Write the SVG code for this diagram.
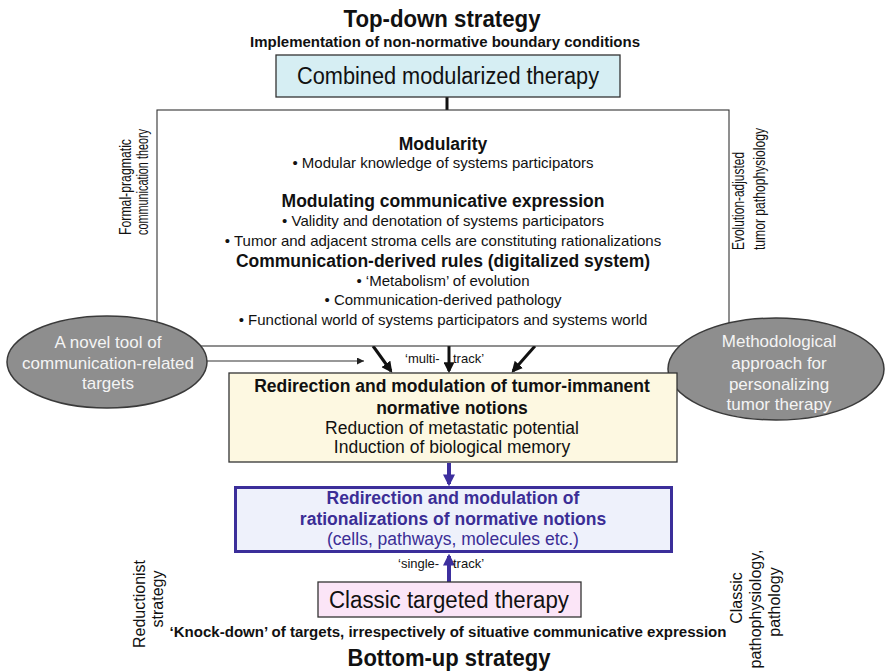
<svg xmlns="http://www.w3.org/2000/svg" width="888" height="672" viewBox="0 0 888 672">
<style>
text { font-family: "Liberation Sans", Arial, sans-serif; fill: #111; }
.b { font-weight: bold; }
.c { text-anchor: middle; }
.box { stroke: #333; stroke-width: 1.3; }
.ell { fill: #8e8e8e; stroke: #3a3a3a; stroke-width: 1.5; }
.et { fill: #f4f4f4; font-size: 17px; text-anchor: middle; }
.thin { stroke: #333; stroke-width: 1.1; fill: none; }
.blk { stroke: #111; stroke-width: 3; fill: none; }
.pur { stroke: #3d2f9e; stroke-width: 4; fill: none; }
.pt { fill: #3b2e96; }
</style>
<defs>
<marker id="ahb" viewBox="0 0 10 10" refX="8" refY="5" markerWidth="11" markerHeight="11" markerUnits="userSpaceOnUse" orient="auto"><path d="M0,0 L10,5 L0,10 z" fill="#111"/></marker>
<marker id="aht" viewBox="0 0 10 10" refX="10" refY="5" markerWidth="9" markerHeight="7" markerUnits="userSpaceOnUse" orient="auto"><path d="M0,0 L10,5 L0,10 z" fill="#222"/></marker>
<marker id="ahp" viewBox="0 0 10 10" refX="8" refY="5" markerWidth="12" markerHeight="12" markerUnits="userSpaceOnUse" orient="auto"><path d="M0,0 L10,5 L0,10 z" fill="#3d2f9e"/></marker>
</defs>

<g id="titles">
<text class="b c" x="442" y="27" font-size="24" textLength="197" lengthAdjust="spacingAndGlyphs">Top-down strategy</text>
<text class="b c" x="445" y="47" font-size="14" textLength="390" lengthAdjust="spacingAndGlyphs">Implementation of non-normative boundary conditions</text>
<text class="b c" x="448" y="637" font-size="14" textLength="557" lengthAdjust="spacingAndGlyphs">‘Knock-down’ of targets, irrespectively of situative communicative expression</text>
<text class="b c" x="449" y="666" font-size="24" textLength="203" lengthAdjust="spacingAndGlyphs">Bottom-up strategy</text>
</g>

<g id="side-labels">
<text transform="translate(131,235) rotate(-90)" x="0" y="0" font-size="16" textLength="96" lengthAdjust="spacingAndGlyphs">Formal-pragmatic</text>
<text transform="translate(148,235) rotate(-90)" x="0" y="0" font-size="16" textLength="106" lengthAdjust="spacingAndGlyphs">communication theory</text>
<text transform="translate(744,250) rotate(-90)" x="0" y="0" font-size="16" textLength="98" lengthAdjust="spacingAndGlyphs">Evolution-adjusted</text>
<text transform="translate(765,250) rotate(-90)" x="0" y="0" font-size="16" textLength="122" lengthAdjust="spacingAndGlyphs">tumor pathophysiology</text>
<text class="c" transform="translate(145,604) rotate(-90)" x="0" y="0" font-size="16">Reductionist</text>
<text class="c" transform="translate(163,599) rotate(-90)" x="0" y="0" font-size="16">strategy</text>
<text class="c" transform="translate(742,598) rotate(-90)" x="0" y="0" font-size="16">Classic</text>
<text class="c" transform="translate(761,609) rotate(-90)" x="0" y="0" font-size="16">pathophysiology,</text>
<text class="c" transform="translate(780,602) rotate(-90)" x="0" y="0" font-size="16">pathology</text>
</g>

<g id="connectors">
<line class="blk" x1="447" y1="97" x2="447" y2="110" stroke-width="2.5"/>
<line class="thin" x1="205" y1="361" x2="364" y2="361" marker-end="url(#aht)"/>
<line class="blk" x1="373" y1="346" x2="391" y2="371" marker-end="url(#ahb)"/>
<line class="blk" x1="449" y1="346" x2="449" y2="371" marker-end="url(#ahb)"/>
<line class="blk" x1="535" y1="346" x2="513" y2="371" marker-end="url(#ahb)"/>
<line class="pur" x1="449" y1="463" x2="449" y2="484" marker-end="url(#ahp)"/>
<line class="pur" x1="449" y1="582" x2="449" y2="556" marker-end="url(#ahp)"/>
</g>

<g id="combined">
<rect class="box" x="276" y="55" width="344" height="42" fill="#d6eef3"/>
<text class="c" x="448" y="84" font-size="23" textLength="302" lengthAdjust="spacingAndGlyphs">Combined modularized therapy</text>
</g>

<g id="framework">
<rect x="157" y="110" width="572" height="236" fill="#fff" stroke="#333" stroke-width="1.1"/>
<text class="b c" x="443" y="150" font-size="17.5">Modularity</text>
<text class="c" x="443" y="168" font-size="15">• Modular knowledge of  systems participators</text>
<text class="b c" x="443" y="207" font-size="17.5">Modulating communicative expression</text>
<text class="c" x="443" y="226" font-size="15">• Validity and denotation of systems participators</text>
<text class="c" x="443" y="246" font-size="15">• Tumor and adjacent stroma cells are constituting rationalizations</text>
<text class="b c" x="443" y="267" font-size="17.5">Communication-derived rules (digitalized system)</text>
<text class="c" x="443" y="286" font-size="15">• ‘Metabolism’ of evolution</text>
<text class="c" x="443" y="305" font-size="15">• Communication-derived pathology</text>
<text class="c" x="443" y="325" font-size="15">• Functional world of systems participators and systems world</text>
</g>

<g id="tool-ellipse">
<ellipse class="ell" cx="107" cy="362" rx="100" ry="46"/>
<text class="et" x="108" y="348">A novel tool of</text>
<text class="et" x="108" y="369">communication-related</text>
<text class="et" x="108" y="389">targets</text>
</g>

<g id="method-ellipse">
<ellipse class="ell" cx="776" cy="369" rx="108" ry="51"/>
<text class="et" x="779" y="347">Methodological</text>
<text class="et" x="779" y="369">approach for</text>
<text class="et" x="779" y="390">personalizing</text>
<text class="et" x="779" y="410">tumor therapy</text>
</g>

<g id="multi-track-label">
<text x="405" y="363" font-size="13">‘multi-</text>
<text x="453" y="363" font-size="13">track’</text>
</g>

<g id="normative">
<rect class="box" x="229" y="373" width="448" height="89" fill="#fdf8e1"/>
<text class="b c" x="452" y="392" font-size="17.5">Redirection and modulation of tumor-immanent</text>
<text class="b c" x="452" y="414" font-size="17.5">normative notions</text>
<text class="c" x="452" y="434" font-size="17.5">Reduction of metastatic potential</text>
<text class="c" x="452" y="453" font-size="17.5">Induction of biological memory</text>
</g>

<g id="rationalizations">
<rect x="235.5" y="487.5" width="436" height="64" fill="#eef1fb" stroke="#3b2e9a" stroke-width="3"/>
<text class="b c pt" x="453" y="504" font-size="17.5">Redirection and modulation of</text>
<text class="b c pt" x="453" y="525" font-size="17.5">rationalizations of normative notions</text>
<text class="c pt" x="453" y="545" font-size="17.5">(cells, pathways, molecules etc.)</text>
</g>

<g id="single-track-label">
<text x="398" y="568" font-size="13">‘single-</text>
<text x="453" y="568" font-size="13">track’</text>
</g>

<g id="classic">
<rect class="box" x="318" y="582" width="263" height="35" fill="#fbe5f7"/>
<text class="c" x="449" y="608" font-size="23" textLength="240" lengthAdjust="spacingAndGlyphs">Classic targeted therapy</text>
</g>
</svg>
